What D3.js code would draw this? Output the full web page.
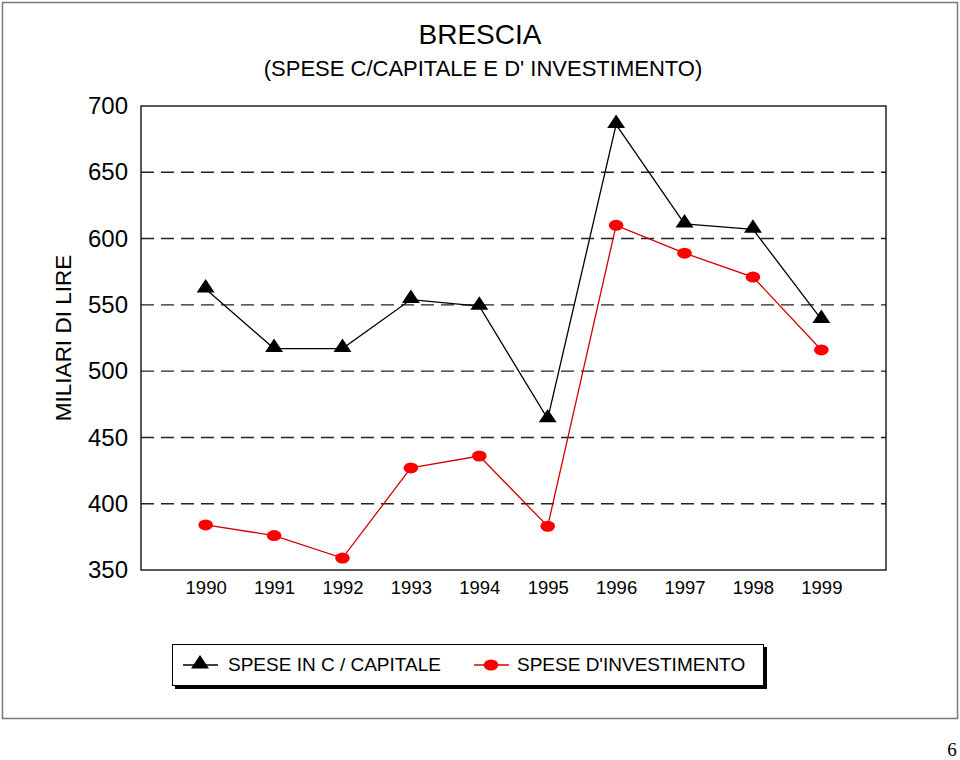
<!DOCTYPE html>
<html><head><meta charset="utf-8">
<script src="https://cdn.jsdelivr.net/npm/d3@7"></script>
<style>body{margin:0;background:#fff;} svg{display:block;font-family:"Liberation Sans",Arial,sans-serif;}</style>
</head><body>
<svg id="c" width="960" height="760"></svg>
<script>
const years = ["1990","1991","1992","1993","1994","1995","1996","1997","1998","1999"];
const speseCapitale = [562, 517, 517, 554, 549, 464, 686, 611, 607, 539];
const speseInvestimento = [384, 376, 359, 427, 436, 383, 610, 589, 571, 516];
const yTicks = [350, 400, 450, 500, 550, 600, 650, 700];
const seriesNames = ["SPESE IN C / CAPITALE", "SPESE D'INVESTIMENTO"];

const svg = d3.select("#c");
const L = 141, R = 886, T = 106, B = 570;

// outer frame
svg.append("rect").attr("x",2.5).attr("y",2.5).attr("width",955).attr("height",716)
  .attr("fill","none").attr("stroke","#7a7a7a").attr("stroke-width",1.5);

const x = d3.scalePoint().domain(years).range([L,R]).padding(0.945);
const y = d3.scaleLinear().domain([350,700]).range([B,T]);

// title
svg.append("text").attr("x",480).attr("y",44).attr("text-anchor","middle")
  .attr("font-size",28).text("BRESCIA");
svg.append("text").attr("x",483).attr("y",76).attr("text-anchor","middle")
  .attr("font-size",22).text("(SPESE C/CAPITALE E D' INVESTIMENTO)");

// grid
svg.append("g").selectAll("line").data(yTicks.filter(d=>d>350 && d<700)).join("line")
  .attr("x1",L).attr("x2",R).attr("y1",d=>y(d)).attr("y2",d=>y(d))
  .attr("stroke","#222").attr("stroke-width",1.4).attr("stroke-dasharray","13,7");

// plot box
svg.append("rect").attr("x",L).attr("y",T).attr("width",R-L).attr("height",B-T)
  .attr("fill","none").attr("stroke","#000").attr("stroke-width",1.3);

// y axis
const ya = svg.append("g").attr("transform",`translate(${L},0)`)
  .call(d3.axisLeft(y).tickValues(yTicks).tickSize(0).tickPadding(13));
ya.select(".domain").remove();
ya.selectAll("text").attr("font-size",24).attr("font-family","Liberation Sans, Arial, sans-serif").attr("fill","#000");

// x axis
const xa = svg.append("g").attr("transform",`translate(0,${B})`)
  .call(d3.axisBottom(x).tickSize(0).tickPadding(11));
xa.select(".domain").remove();
xa.selectAll("text").attr("font-size",18.5).attr("font-family","Liberation Sans, Arial, sans-serif").attr("fill","#000");

// y title
svg.append("text").attr("transform","translate(71,338) rotate(-90)").attr("text-anchor","middle")
  .attr("font-size",22.5).text("MILIARI DI LIRE");

const line = d3.line().x((d,i)=>x(years[i])).y(d=>y(d));
const tri = d3.symbol().type(d3.symbolTriangle).size(105);

// black series
svg.append("path").datum(speseCapitale).attr("d",line).attr("fill","none")
  .attr("stroke","#000").attr("stroke-width",1.3);
svg.append("g").selectAll("path").data(speseCapitale).join("path")
  .attr("d",tri).attr("transform",(d,i)=>`translate(${x(years[i])},${y(d)-1}) scale(1.15,1)`).attr("fill","#000");

// red series
svg.append("path").datum(speseInvestimento).attr("d",line).attr("fill","none")
  .attr("stroke","#d40000").attr("stroke-width",1.3);
svg.append("g").selectAll("ellipse").data(speseInvestimento).join("ellipse")
  .attr("cx",(d,i)=>x(years[i])).attr("cy",d=>y(d)).attr("rx",7.3).attr("ry",5.5).attr("fill","#ff0000");

// legend
const lg = svg.append("g");
lg.append("rect").attr("x",175).attr("y",647).attr("width",592).attr("height",42).attr("fill","#000");
lg.append("rect").attr("x",172.5).attr("y",644.5).attr("width",591).attr("height",41)
  .attr("fill","#fff").attr("stroke","#000").attr("stroke-width",1);
lg.append("line").attr("x1",183).attr("x2",218).attr("y1",665).attr("y2",665).attr("stroke","#000").attr("stroke-width",1.3);
lg.append("path").attr("d",tri).attr("transform","translate(200,664) scale(1.15,1)").attr("fill","#000");
lg.append("text").attr("x",228).attr("y",671).attr("font-size",19).text(seriesNames[0]);
lg.append("line").attr("x1",474).attr("x2",509).attr("y1",665).attr("y2",665).attr("stroke","#d40000").attr("stroke-width",1.3);
lg.append("ellipse").attr("cx",491).attr("cy",665).attr("rx",7.3).attr("ry",5.5).attr("fill","#ff0000");
lg.append("text").attr("x",517).attr("y",671).attr("font-size",19).text(seriesNames[1]);

// page number
svg.append("text").attr("x",952).attr("y",756).attr("text-anchor","middle")
  .attr("font-family","Liberation Serif, Times New Roman, serif").attr("font-size",19).text("6");
</script>
</body></html>
